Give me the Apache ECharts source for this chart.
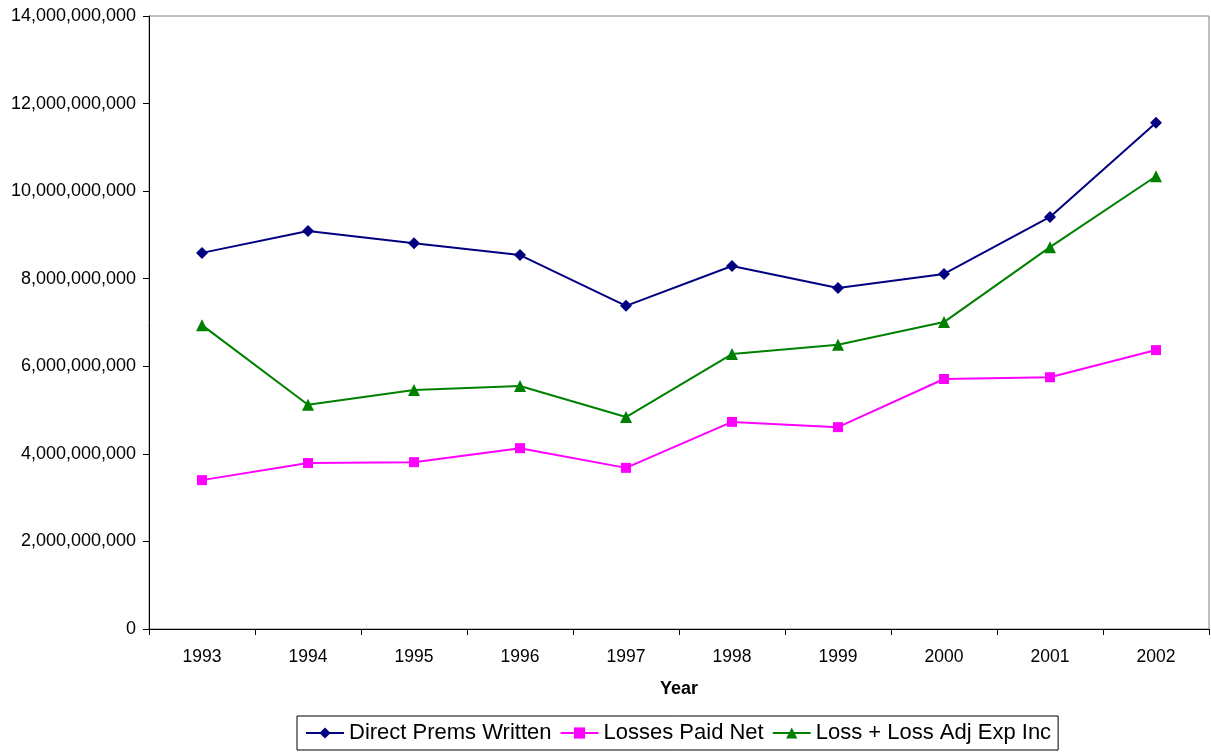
<!DOCTYPE html>
<html>
<head>
<meta charset="utf-8">
<script src="https://cdn.jsdelivr.net/npm/echarts@6/dist/echarts.min.js"></script>
<style>
html,body{margin:0;padding:0;background:#fff;}
#chart{width:1211px;height:753px;}
</style>
</head>
<body>
<div id="chart"></div>
<script>
const years = ['1993','1994','1995','1996','1997','1998','1999','2000','2001','2002'];
const directPremsWritten = [8590000000, 9090000000, 8810000000, 8540000000, 7380000000, 8290000000, 7790000000, 8110000000, 9410000000, 11560000000];
const lossesPaidNet = [3400000000, 3790000000, 3810000000, 4130000000, 3680000000, 4730000000, 4610000000, 5710000000, 5750000000, 6370000000];
const lossLossAdjExpInc = [6940000000, 5120000000, 5460000000, 5550000000, 4840000000, 6280000000, 6490000000, 7010000000, 8720000000, 10340000000];
const seriesNames = ['Direct Prems Written', 'Losses Paid Net', 'Loss + Loss Adj Exp Inc'];

const FONT = '"Liberation Sans", Arial, sans-serif';
function fmt(v){ return String(Math.round(v)).replace(/\B(?=(\d{3})+(?!\d))/g, ','); }

const chart = echarts.init(document.getElementById('chart'), null, {renderer:'canvas'});
chart.setOption({
  animation: false,
  backgroundColor: '#ffffff',
  grid: { left: 149, top: 16, right: 2, bottom: 124, show: true, borderColor: '#808080', borderWidth: 1, backgroundColor: 'transparent' },
  legend: {
    data: seriesNames,
    left: 297, top: 716,
    orient: 'horizontal',
    borderColor: '#000', borderWidth: 1,
    padding: [6, 7, 6, 8],
    itemGap: 8,
    itemWidth: 38, itemHeight: 14,
    textStyle: { fontFamily: FONT, fontSize: 22, color: '#000' }
  },
  xAxis: {
    type: 'category',
    data: years,
    name: 'Year',
    nameLocation: 'middle',
    nameGap: 51,
    nameTextStyle: { fontFamily: FONT, fontSize: 18, fontWeight: 'bold', color: '#000' },
    boundaryGap: true,
    axisLine: { show: true, lineStyle: { color: '#000', width: 1 } },
    axisTick: { show: true, interval: 0, length: 6, lineStyle: { color: '#000' } },
    axisLabel: { fontFamily: FONT, fontSize: 17.5, color: '#000', margin: 19, interval: 0 },
    splitLine: { show: false }
  },
  yAxis: {
    type: 'value',
    min: 0, max: 14000000000, interval: 2000000000,
    axisLine: { show: true, lineStyle: { color: '#000', width: 1 } },
    axisTick: { show: true, length: 6, lineStyle: { color: '#000' } },
    axisLabel: { fontFamily: FONT, fontSize: 18, color: '#000', margin: 13, formatter: fmt },
    splitLine: { show: false }
  },
  series: [
    { name: seriesNames[0], type: 'line', data: directPremsWritten, symbol: 'diamond', symbolSize: 12,
      itemStyle: { color: '#000080' }, lineStyle: { color: '#000080', width: 2 } },
    { name: seriesNames[1], type: 'line', data: lossesPaidNet, symbol: 'rect', symbolSize: 10,
      itemStyle: { color: '#FF00FF' }, lineStyle: { color: '#FF00FF', width: 2 } },
    { name: seriesNames[2], type: 'line', data: lossLossAdjExpInc, symbol: 'triangle', symbolSize: 12,
      itemStyle: { color: '#008000' }, lineStyle: { color: '#008000', width: 2 } }
  ]
});
</script>
</body>
</html>
